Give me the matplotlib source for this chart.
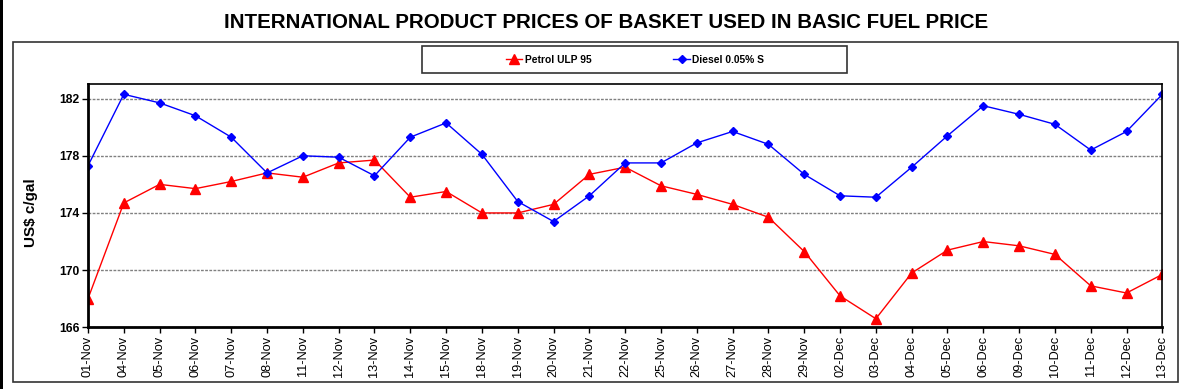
import matplotlib
matplotlib.use("Agg")
import matplotlib.pyplot as plt
from matplotlib.patches import Rectangle

plt.rcParams['font.family'] = ['Liberation Sans', 'DejaVu Sans']

dates = ["01-Nov", "04-Nov", "05-Nov", "06-Nov", "07-Nov", "08-Nov", "11-Nov", "12-Nov",
         "13-Nov", "14-Nov", "15-Nov", "18-Nov", "19-Nov", "20-Nov", "21-Nov", "22-Nov",
         "25-Nov", "26-Nov", "27-Nov", "28-Nov", "29-Nov", "02-Dec", "03-Dec", "04-Dec",
         "05-Dec", "06-Dec", "09-Dec", "10-Dec", "11-Dec", "12-Dec", "13-Dec"]

petrol = [168.0, 174.7, 176.0, 175.7, 176.2, 176.8, 176.5, 177.5,
          177.7, 175.1, 175.5, 174.0, 174.0, 174.6, 176.7, 177.2,
          175.9, 175.3, 174.6, 173.7, 171.3, 168.2, 166.6, 169.8,
          171.4, 172.0, 171.7, 171.1, 168.9, 168.4, 169.7]

diesel = [177.3, 182.3, 181.7, 180.8, 179.3, 176.8, 178.0, 177.9,
          176.6, 179.3, 180.3, 178.1, 174.8, 173.4, 175.2, 177.5,
          177.5, 178.9, 179.7, 178.8, 176.7, 175.2, 175.1, 177.2,
          179.4, 181.5, 180.9, 180.2, 178.4, 179.7, 182.3]

yticks = [166, 170, 174, 178, 182]

fig = plt.figure(figsize=(11.89, 3.89), dpi=100)
ax = fig.add_axes([0.074, 0.1586, 0.9036, 0.6247])

x = list(range(len(dates)))
ax.plot(x, petrol, color='#FF0000', lw=1, marker='^', markersize=7, label='Petrol ULP 95')
ax.plot(x, diesel, color='#0000FF', lw=1, marker='D', markersize=4.2, label='Diesel 0.05% S')

ax.set_xlim(0, len(dates) - 1)
ax.set_ylim(166, 183)
ax.set_yticks(yticks)
ax.set_yticklabels([str(v) for v in yticks], fontsize=8.7, fontweight='bold')
ax.set_xticks(x)
ax.set_xticklabels(dates, rotation=90, fontsize=9.2)
ax.tick_params(axis='both', length=4, width=1, color='black', pad=2)

ax.yaxis.grid(True, color='#808080', linestyle=(0, (2, 1)), linewidth=1)
ax.set_axisbelow(True)

for side in ['left', 'bottom']:
    ax.spines[side].set_linewidth(2)
for side in ['top', 'right']:
    ax.spines[side].set_linewidth(1.2)

ax.set_ylabel('US$ c/gal', fontsize=11, fontweight='bold')
ax.yaxis.set_label_coords(-0.0465, 0.47)

fig.text(0.5097, 0.943, 'INTERNATIONAL PRODUCT PRICES OF BASKET USED IN BASIC FUEL PRICE',
         ha='center', va='center', fontsize=14.8, fontweight='bold')

# outer frame and legend box
fig.patches.append(Rectangle((0.0109, 0.018), 0.9798, 0.874, transform=fig.transFigure,
                             fill=False, edgecolor='#333333', lw=1.2))
fig.patches.append(Rectangle((0, 0), 3 / 1189, 1, transform=fig.transFigure,
                             facecolor='black', edgecolor='none'))
fig.patches.append(Rectangle((0.3547, 0.8116), 0.3574, 0.0709, transform=fig.transFigure,
                             fill=False, edgecolor='#333333', lw=1.2))

leg = fig.legend(loc='center', bbox_to_anchor=(0.534, 0.847), ncol=2, frameon=False,
                 prop={'size': 7.4, 'weight': 'bold'}, handlelength=1.6,
                 handletextpad=0.2, columnspacing=8)

fig.savefig('out.png', dpi=100)
